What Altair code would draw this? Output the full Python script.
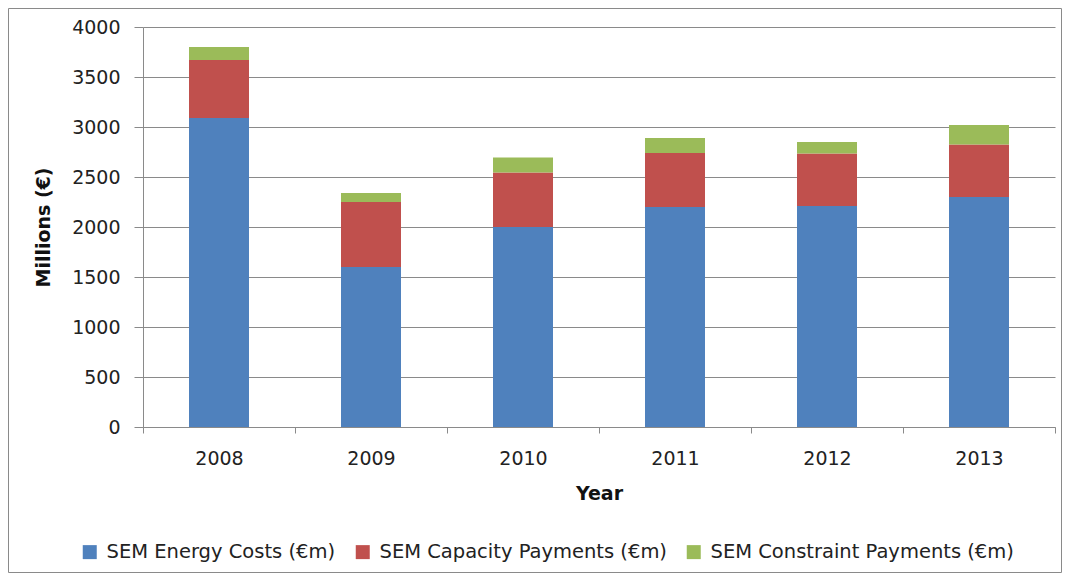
import altair as alt
import pandas as pd

years = ["2008", "2009", "2010", "2011", "2012", "2013"]
energy = [3090, 1600, 2000, 2200, 2210, 2300]
capacity = [580, 650, 545, 540, 525, 525]
constraint = [130, 90, 150, 150, 115, 195]
series = ["SEM Energy Costs (€m)", "SEM Capacity Payments (€m)", "SEM Constraint Payments (€m)"]
colors = ["#4F81BD", "#C0504D", "#9BBB59"]
y_ticks = [0, 500, 1000, 1500, 2000, 2500, 3000, 3500, 4000]

rows = []
for i, yr in enumerate(years):
    for k, (name, vals) in enumerate(zip(series, [energy, capacity, constraint])):
        rows.append({"Year": yr, "Series": name, "Value": vals[i], "order": k})
df = pd.DataFrame(rows)

FONT = "DejaVu Sans"
GRAY = "#8a8a8a"

bars = alt.Chart(df).mark_bar(width=60).encode(
    x=alt.X("Year:N", sort=years,
            scale=alt.Scale(paddingInner=0, paddingOuter=0),
            axis=alt.Axis(title="Year", labelAngle=0, tickBand="extent", grid=False,
                          tickSize=6, labelPadding=16, titlePadding=16,
                          domainColor=GRAY, tickColor=GRAY)),
    y=alt.Y("Value:Q", stack="zero", scale=alt.Scale(domain=[0, 4000], nice=False),
            axis=alt.Axis(title="Millions (€)", values=y_ticks, format="d", grid=True, gridColor=GRAY,
                          tickSize=9, labelPadding=14, titlePadding=18,
                          domainColor=GRAY, tickColor=GRAY)),
    color=alt.Color("Series:N", scale=alt.Scale(domain=series, range=colors),
                    legend=alt.Legend(title=None, orient="none", legendX=-63, legendY=515,
                                      direction="horizontal", columns=3,
                                      symbolType="square", symbolSize=196,
                                      symbolStrokeWidth=0, labelFontSize=19.5,
                                      labelFont=FONT, labelColor="#222222", labelLimit=0,
                                      columnPadding=17, labelOffset=7)),
    order=alt.Order("order:Q"),
)

frame = alt.Chart(pd.DataFrame({"a": [0]})).mark_rect(
    fill="transparent", stroke=GRAY, strokeWidth=1
).encode(
    x=alt.value(-134.5), x2=alt.value(918.5), y=alt.value(-18.5), y2=alt.value(545.5)
)

chart = alt.layer(frame, bars).properties(
    width=912, height=400,
    autosize=alt.AutoSizeParams(type="none"),
    padding={"left": 135, "top": 19, "right": 7, "bottom": 146},
).configure_view(stroke=None).configure_axis(
    labelFont=FONT, labelFontSize=19, labelColor="#222222",
    titleFont=FONT, titleFontSize=19, titleFontWeight="bold", titleColor="#111111",
)

chart.save("out.html", embed_options={"renderer": "svg", "actions": False})
